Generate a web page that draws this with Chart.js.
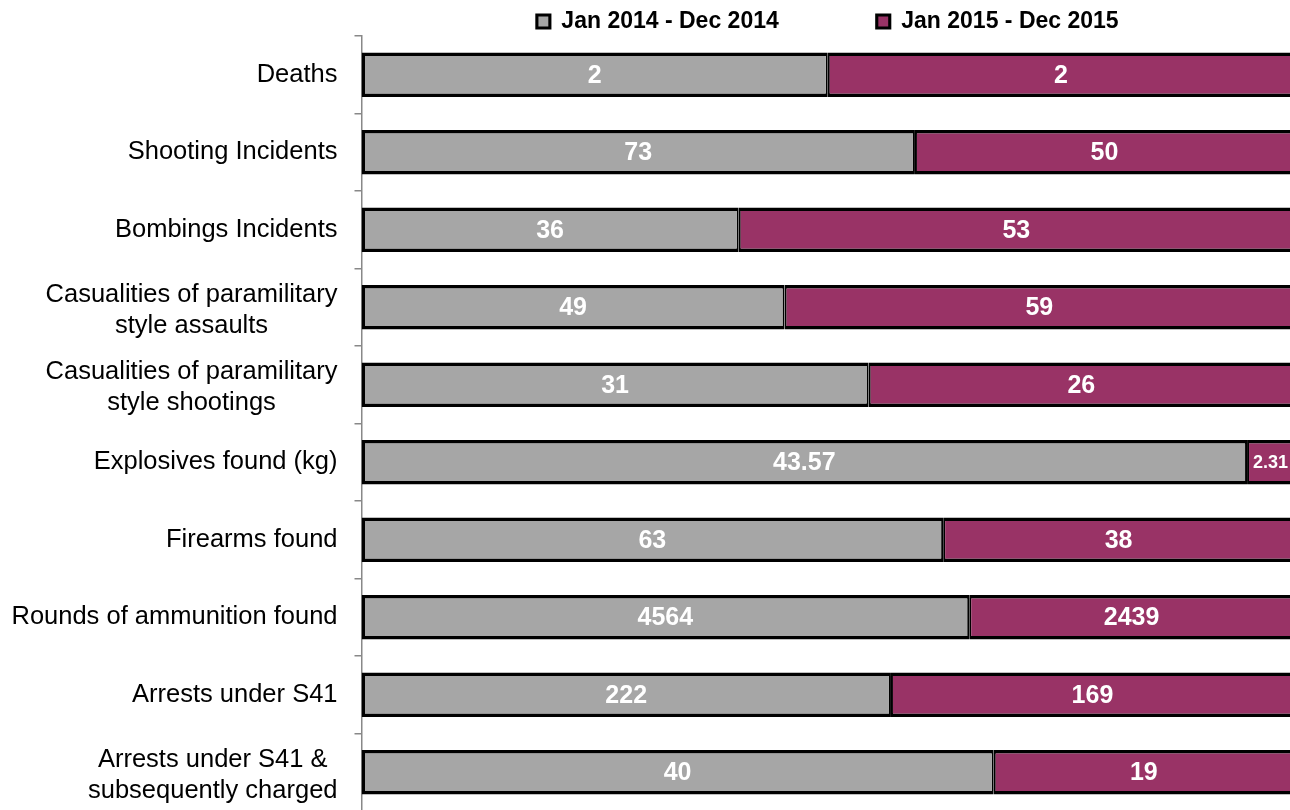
<!DOCTYPE html>
<html>
<head>
<meta charset="utf-8">
<script src="https://cdn.jsdelivr.net/npm/chart.js@4/dist/chart.umd.min.js"></script>
<style>
html,body{margin:0;padding:0;background:#fff;overflow:hidden;width:1290px;height:810px;}
#wrap{width:1300px;height:811px;}
</style>
</head>
<body>
<div id="wrap"><canvas id="c" width="1300" height="811"></canvas></div>
<script>
const categories = [
  'Deaths',
  'Shooting Incidents',
  'Bombings Incidents',
  ['Casualities of paramilitary', 'style assaults'],
  ['Casualities of paramilitary', 'style shootings'],
  'Explosives found (kg)',
  'Firearms found',
  'Rounds of ammunition found',
  'Arrests under S41',
  ['Arrests under S41 &', 'subsequently charged']
];
const seriesNames = ['Jan 2014 - Dec 2014', 'Jan 2015 - Dec 2015'];
const values2014 = [2, 73, 36, 49, 31, 43.57, 63, 4564, 222, 40];
const values2015 = [2, 50, 53, 59, 26, 2.31, 38, 2439, 169, 19];

const rawSeries = [values2014, values2015];
const totals = values2014.map((v, i) => v + values2015[i]);
const pct = arr => arr.map((v, i) => v / totals[i] * 100);

const FONT = '"Liberation Sans", Arial, sans-serif';
const LEGEND_PAD = 98;

const layoutPlugin = {
  id: 'layoutTweaks',
  afterLayout(chart) {
    const l = chart.legend, ca = chart.chartArea;
    if (!l) return;
    const shift = (ca.left + ca.right) / 2 - (l.left + l.right) / 2;
    l.left += shift; l.right += shift;
    l.top += 7; l.bottom += 7;
  },
  afterDraw(chart) {
    const ctx = chart.ctx, y = chart.scales.y, ca = chart.chartArea;
    ctx.save();
    // category labels: block right-aligned, lines centered within block
    ctx.font = '25.5px ' + FONT;
    ctx.fillStyle = '#000';
    ctx.textAlign = 'center';
    ctx.textBaseline = 'middle';
    const lh = 31;
    const rightEdge = ca.left - 24;
    categories.forEach((cat, i) => {
      const lines = Array.isArray(cat) ? cat : [cat];
      const maxW = Math.max(...lines.map(t => ctx.measureText(t).width));
      const cx = rightEdge - maxW / 2;
      const yc = y.getPixelForValue(i) + (lines.length > 1 ? 3 : 0);
      lines.forEach((t, k) => {
        ctx.fillText(t, cx, yc + (k - (lines.length - 1) / 2) * lh);
      });
    });
    // data labels
    ctx.fillStyle = '#fff';
    chart.data.datasets.forEach((ds, di) => {
      const meta = chart.getDatasetMeta(di);
      meta.data.forEach((el, i) => {
        const txt = String(rawSeries[di][i]);
        const segW = Math.abs(el.x - el.base);
        ctx.font = 'bold 25px ' + FONT;
        if (ctx.measureText(txt).width > segW - 6) ctx.font = 'bold 18px ' + FONT;
        ctx.fillText(txt, (el.x + el.base) / 2, el.y + 1);
      });
    });
    ctx.restore();
  }
};

new Chart(document.getElementById('c'), {
  type: 'bar',
  data: {
    labels: categories,
    datasets: [
      {
        label: seriesNames[0],
        data: pct(values2014),
        backgroundColor: '#A6A6A6',
        borderColor: '#000',
        borderWidth: {top: 3.5, bottom: 3.5, left: 3.5, right: 2},
        borderSkipped: false,
        barPercentage: 0.575,
        categoryPercentage: 1
      },
      {
        label: seriesNames[1],
        data: pct(values2015),
        backgroundColor: '#993366',
        borderColor: '#000',
        borderWidth: {top: 3.5, bottom: 3.5, left: 2, right: 3.5},
        borderSkipped: false,
        barPercentage: 0.575,
        categoryPercentage: 1
      }
    ]
  },
  options: {
    indexAxis: 'y',
    responsive: false,
    animation: false,
    devicePixelRatio: 1,
    layout: {padding: {top: 3 - LEGEND_PAD, right: 6, bottom: 0, left: 0}},
    scales: {
      x: {stacked: true, min: 0, max: 100, display: false},
      y: {
        stacked: true,
        afterFit(s) { s.width = 361.5; },
        ticks: {display: false},
        grid: {display: true, drawOnChartArea: false, drawTicks: true, tickLength: 7, color: '#888', lineWidth: 1.5, offset: true},
        border: {display: true, color: '#888', width: 1.5}
      }
    },
    plugins: {
      tooltip: {enabled: false},
      legend: {
        position: 'top',
        labels: {
          color: '#000',
          font: {family: FONT, size: 23, weight: 'bold'},
          boxWidth: 13,
          boxHeight: 13,
          padding: LEGEND_PAD
        }
      }
    }
  },
  plugins: [layoutPlugin]
});
</script>
</body>
</html>
